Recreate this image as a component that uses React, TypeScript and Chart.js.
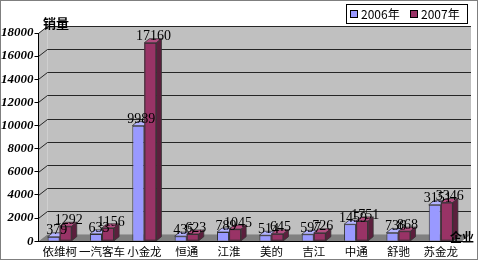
import React, { useEffect, useRef } from "react";
import { Chart, registerables } from "chart.js";

Chart.register(...registerables);

const categories = ["依维柯", "一汽客车", "小金龙", "恒通", "江淮", "美的", "吉江", "中通", "舒驰", "苏金龙"];
const seriesNames = ["2006年", "2007年"];
const values2006 = [379, 633, 9989, 435, 789, 514, 597, 1459, 736, 3151];
const values2007 = [1292, 1156, 17160, 623, 1045, 645, 726, 1751, 868, 3346];
const yMax = 18000;
const yStep = 2000;
const yTitle = "销量";
const xTitle = "企业";

const frontColors = ["#9999ff", "#993366"];
const topColors = ["#b3b3ff", "#b34d80"];
const sideColors = ["#6b6bb3", "#5c1f3d"];

const DX = 9;
const DY = 7;
const BDX = 5;
const BDY = 4;

const CJK = '"Noto Sans CJK SC", sans-serif';
const SERIF = '"Liberation Serif", "DejaVu Serif", serif';

const decor = {
  id: "decor",
  beforeDraw(chart: any) {
    const { ctx, chartArea } = chart;
    const { left: L, right: R, top: T, bottom: B } = chartArea;
    ctx.save();
    ctx.fillStyle = "#ffffff";
    ctx.fillRect(0, 0, chart.width, chart.height);
    ctx.strokeStyle = "#7f7f7f";
    ctx.lineWidth = 1;
    ctx.strokeRect(0.5, 0.5, 477, 259);
    ctx.fillStyle = "#c0c0c0";
    ctx.fillRect(L + DX, T - DY, R - L, B - T);
    ctx.beginPath();
    ctx.moveTo(L, B);
    ctx.lineTo(L, T);
    ctx.lineTo(L + DX, T - DY);
    ctx.lineTo(L + DX, B - DY);
    ctx.closePath();
    ctx.fill();
    ctx.fillStyle = "#808080";
    ctx.beginPath();
    ctx.moveTo(L, B);
    ctx.lineTo(L + DX, B - DY);
    ctx.lineTo(R + DX, B - DY);
    ctx.lineTo(R, B);
    ctx.closePath();
    ctx.fill();
    const ys = chart.scales.y;
    ctx.strokeStyle = "#262626";
    ctx.lineWidth = 1;
    for (let v = yStep; v <= yMax; v += yStep) {
      const y = Math.round(ys.getPixelForValue(v)) + 0.5;
      ctx.beginPath();
      ctx.moveTo(L, y);
      ctx.lineTo(L + DX, y - DY);
      ctx.lineTo(R + DX, y - DY);
      ctx.stroke();
    }
    ctx.restore();
  },
  afterDatasetsDraw(chart: any) {
    const { ctx } = chart;
    ctx.save();
    const metas = [chart.getDatasetMeta(0), chart.getDatasetMeta(1)];
    const n = categories.length;
    for (let i = 0; i < n; i++) {
      metas.forEach((meta: any, d: number) => {
        const bar = meta.data[i];
        if (!bar) return;
        const { x, y, base, width } = bar.getProps(["x", "y", "base", "width"], true);
        const l = x - width / 2;
        const r = x + width / 2;
        if (d === 1) {
          ctx.fillStyle = frontColors[d];
          ctx.fillRect(l, y, width, base - y);
          ctx.strokeStyle = "#333";
          ctx.lineWidth = 1;
          ctx.strokeRect(l + 0.5, y + 0.5, width - 1, base - y - 1);
        }
        ctx.strokeStyle = "#333";
        ctx.lineWidth = 0.8;
        ctx.fillStyle = topColors[d];
        ctx.beginPath();
        ctx.moveTo(l, y);
        ctx.lineTo(l + BDX, y - BDY);
        ctx.lineTo(r + BDX, y - BDY);
        ctx.lineTo(r, y);
        ctx.closePath();
        ctx.fill();
        ctx.stroke();
        ctx.fillStyle = sideColors[d];
        ctx.beginPath();
        ctx.moveTo(r, y);
        ctx.lineTo(r + BDX, y - BDY);
        ctx.lineTo(r + BDX, base - BDY);
        ctx.lineTo(r, base);
        ctx.closePath();
        ctx.fill();
        ctx.stroke();
      });
    }
    ctx.fillStyle = "#000";
    ctx.font = `14px ${SERIF}`;
    ctx.textAlign = "center";
    ctx.textBaseline = "middle";
    metas.forEach((meta: any, d: number) => {
      const data = chart.data.datasets[d].data;
      meta.data.forEach((bar: any, i: number) => {
        const { x, y } = bar.getProps(["x", "y"], true);
        ctx.fillText(String(data[i]), x + 3, y - 6);
      });
    });
    ctx.restore();
  },
  afterDraw(chart: any) {
    const { ctx } = chart;
    ctx.save();
    ctx.fillStyle = "#000";
    ctx.font = `bold 13px ${CJK}`;
    ctx.textBaseline = "middle";
    ctx.textAlign = "left";
    ctx.fillText(yTitle, 43, 23);
    ctx.font = `bold 12px ${CJK}`;
    ctx.fillText(xTitle, 450, 237);
    ctx.fillStyle = "#fff";
    ctx.fillRect(346, 4, 121, 19);
    ctx.strokeStyle = "#000";
    ctx.lineWidth = 1;
    ctx.strokeRect(346.5, 4.5, 121, 19);
    const items = [
      { sx: 350, tx: 361 },
      { sx: 410, tx: 421 },
    ];
    ctx.font = `12px ${CJK}`;
    items.forEach((it, d) => {
      ctx.fillStyle = frontColors[d];
      ctx.fillRect(it.sx, 10, 8, 8);
      ctx.strokeStyle = "#000";
      ctx.strokeRect(it.sx + 0.5, 10.5, 7, 7);
      ctx.fillStyle = "#000";
      ctx.fillText(chart.data.datasets[d].label, it.tx, 14.5);
    });
    ctx.restore();
  },
};

export default function App() {
  const ref = useRef<HTMLCanvasElement>(null);
  useEffect(() => {
    document.body.style.margin = "0";
    if (!ref.current) return;
    const chart = new Chart(ref.current, {
      type: "bar",
      data: {
        labels: categories,
        datasets: [
          {
            label: seriesNames[0],
            data: values2006,
            backgroundColor: frontColors[0],
            borderColor: "#333",
            borderWidth: 1,
            categoryPercentage: 0.57,
            barPercentage: 1,
          },
          {
            label: seriesNames[1],
            data: values2007,
            backgroundColor: frontColors[1],
            borderColor: "#333",
            borderWidth: 1,
            categoryPercentage: 0.57,
            barPercentage: 1,
          },
        ],
      },
      options: {
        responsive: false,
        animation: false,
        devicePixelRatio: 1,
        layout: { padding: { top: 33, right: 18, bottom: 0, left: 0 } },
        plugins: { legend: { display: false }, tooltip: { enabled: false } },
        scales: {
          x: {
            grid: { display: false, drawTicks: false, tickLength: 0 },
            border: { display: true, color: "#000" },
            ticks: { color: "#000", font: { family: CJK, size: 11.5 }, padding: 4, maxRotation: 0, autoSkip: false },
          },
          y: {
            min: 0,
            max: yMax,
            ticks: {
              stepSize: yStep,
              color: "#000",
              font: { family: SERIF, size: 13, style: "italic", weight: "bold" },
              padding: 1,
              callback: (v: any) => String(v),
            },
            grid: { drawOnChartArea: false, tickLength: 4, color: "#000" },
            border: { display: true, color: "#000" },
          },
        },
      },
      plugins: [decor],
    });
    return () => chart.destroy();
  }, []);
  return <canvas ref={ref} width={480} height={263} style={{ display: "block" }} />;
}
